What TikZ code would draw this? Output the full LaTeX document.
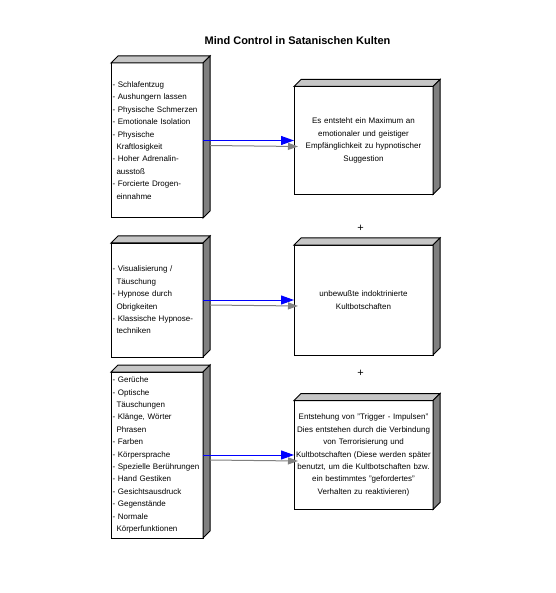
\documentclass[tikz,border=0pt]{standalone}
\usepackage{fontspec}
\setmainfont{Liberation Sans}
\usetikzlibrary{positioning,arrows.meta,calc}

\tikzset{
	block/.style = {draw, fill=white, line width=1pt, outer sep=0pt, inner xsep=1.5pt, inner ysep=0pt, font=\fontsize{8}{12.4}\selectfont},
	listbox/.style = {block, align=left, text width=89pt, minimum width=92pt},
	resultbox/.style = {block, align=center, text width=135pt, minimum width=139pt},
	link/.style = {blue, line width=1pt, -{Triangle[length=13pt,width=9pt]}},
	linkshadow/.style = {gray, line width=1pt, -{Triangle[length=10pt,width=7pt]}},
}
\newcommand{\solidbox}[1]{%
	\filldraw[fill=gray!45, line width=1pt] (#1.north west) -- ++(7,-7) -- ($(#1.north east)+(7,-7)$) -- (#1.north east) -- cycle;
	\filldraw[fill=gray, line width=1pt] (#1.north east) -- ++(7,-7) -- ($(#1.south east)+(7,-7)$) -- (#1.south east) -- cycle;}
\newcommand{\ind}{\hspace*{4pt}}

\begin{document}
\begin{tikzpicture}[x=1pt, y=-1pt]
	\useasboundingbox (0,0) rectangle (555,593);
	\node[font=\bfseries\fontsize{11}{13}\selectfont] (title) at (297.5,40.5) {Mind Control in Satanischen Kulten};
	\node[listbox, minimum height=155pt] (l1) at (157,140.5) {- Schlafentzug\\- Aushungern lassen\\- Physische Schmerzen\\- Emotionale Isolation\\- Physische\\\ind Kraftlosigkeit\\- Hoher Adrenalin-\\\ind aussto\ss\\- Forcierte Drogen-\\\ind einnahme};
	\node[listbox, minimum height=114pt] (l2) [below = 25pt of l1] {- Visualisierung /\\\ind T\"auschung\\- Hypnose durch\\\ind Obrigkeiten\\- Klassische Hypnose-\\\ind techniken};
	\node[listbox, minimum height=166pt] (l3) [below = 15pt of l2] {- Ger\"uche\\- Optische\\\ind T\"auschungen\\- Kl\"ange, W\"orter\\\ind Phrasen\\- Farben\\- K\"orpersprache\\- Spezielle Ber\"uhrungen\\- Hand Gestiken\\- Gesichtsausdruck\\- Gegenst\"ande\\- Normale\\\ind K\"orperfunktionen};
	\node[resultbox, minimum height=108pt] (r1) [right = 91pt of l1] {Es entsteht ein Maximum an\\emotionaler und geistiger\\Empf\"anglichkeit zu hypnotischer\\Suggestion};
	\node[resultbox, minimum height=110pt] (r2) [right = 91pt of l2] {unbewu\ss te indoktrinierte\\Kultbotschaften};
	\node[resultbox, minimum height=109pt] (r3) [right = 91pt of l3] {Entstehung von "Trigger - Impulsen"\\Dies entstehen durch die Verbindung\\von Terrorisierung und\\Kultbotschaften (Diese werden sp\"ater\\benutzt, um die Kultbotschaften bzw.\\ein bestimmtes "gefordertes"\\Verhalten zu reaktivieren)};
	\solidbox{l1}
	\solidbox{l2}
	\solidbox{l3}
	\solidbox{r1}
	\solidbox{r2}
	\solidbox{r3}
	\node[font=\fontsize{11}{13}\selectfont] (plus1) at (360.5,228) {+};
	\node[font=\fontsize{11}{13}\selectfont] (plus2) at (360.5,373) {+};
	\draw[linkshadow] ($(l1.east)+(7,5)$) -- ($(l1.east -| r1.west)+(4,6)$);
	\draw[link] (l1.east) -- (l1.east -| r1.west);
	\draw[linkshadow] ($(l2.east)+(7,5)$) -- ($(l2.east -| r2.west)+(4,6)$);
	\draw[link] (l2.east) -- (l2.east -| r2.west);
	\draw[linkshadow] ($(l3.east)+(7,5)$) -- ($(l3.east -| r3.west)+(4,6)$);
	\draw[link] (l3.east) -- (l3.east -| r3.west);
\end{tikzpicture}
\end{document}
